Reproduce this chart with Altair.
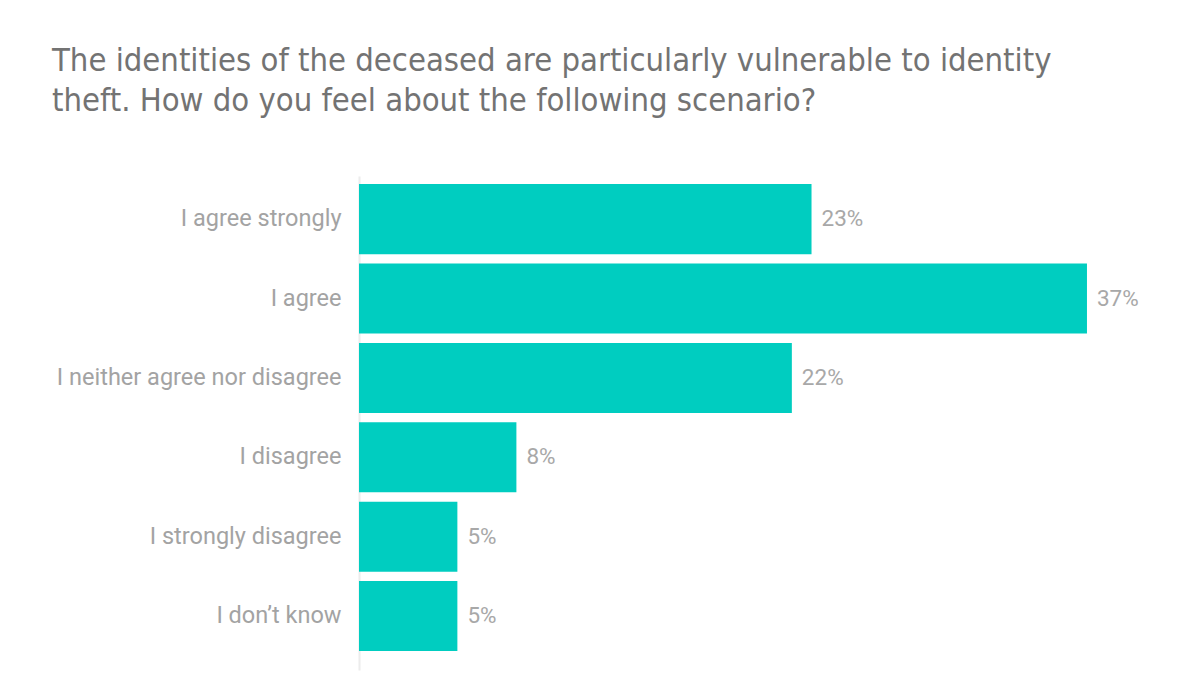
import altair as alt
import pandas as pd

categories = ["I agree strongly", "I agree", "I neither agree nor disagree",
              "I disagree", "I strongly disagree", "I don’t know"]
values = [23, 37, 22, 8, 5, 5]
labels = ["23%", "37%", "22%", "8%", "5%", "5%"]

df = pd.DataFrame({"cat": categories, "val": values, "lab": labels})

y = alt.Y("cat:N", sort=categories,
          scale=alt.Scale(paddingInner=0.118, paddingOuter=0.17, align=0.3),
          axis=alt.Axis(title=None, ticks=False, grid=False, domain=True,
                        domainColor="#ececec", domainWidth=2,
                        labelFont="Roboto", labelFontSize=23.5, labelColor="#a3a3a3",
                        labelPadding=18, labelLimit=400))
x = alt.X("val:Q", scale=alt.Scale(domain=[0, 40]), axis=None)

bars = alt.Chart(df).mark_bar(color="#00CDC0").encode(x=x, y=y)
text = alt.Chart(df).mark_text(align="left", baseline="middle", dx=10,
                               font="Roboto", fontSize=22.5, color="#a8a8a8").encode(
    x=x, y=y, text="lab:N")

chart = alt.layer(bars, text).properties(
    width=787, height=494,
    autosize=alt.AutoSizeParams(type="none"),
    padding={"left": 351, "top": 168, "right": 46, "bottom": 5},
    title=alt.TitleParams(
        ["The identities of the deceased are particularly vulnerable to identity",
         "theft. How do you feel about the following scenario?"],
        anchor="start", frame="group", dx=-307, dy=-55,
        font="DejaVu Sans Condensed", fontSize=32.5, fontWeight="normal",
        color="#737373", lineHeight=40, baseline="top"),
).configure_view(stroke=None)

chart.save("out.html", embed_options={"renderer": "svg", "actions": False})
